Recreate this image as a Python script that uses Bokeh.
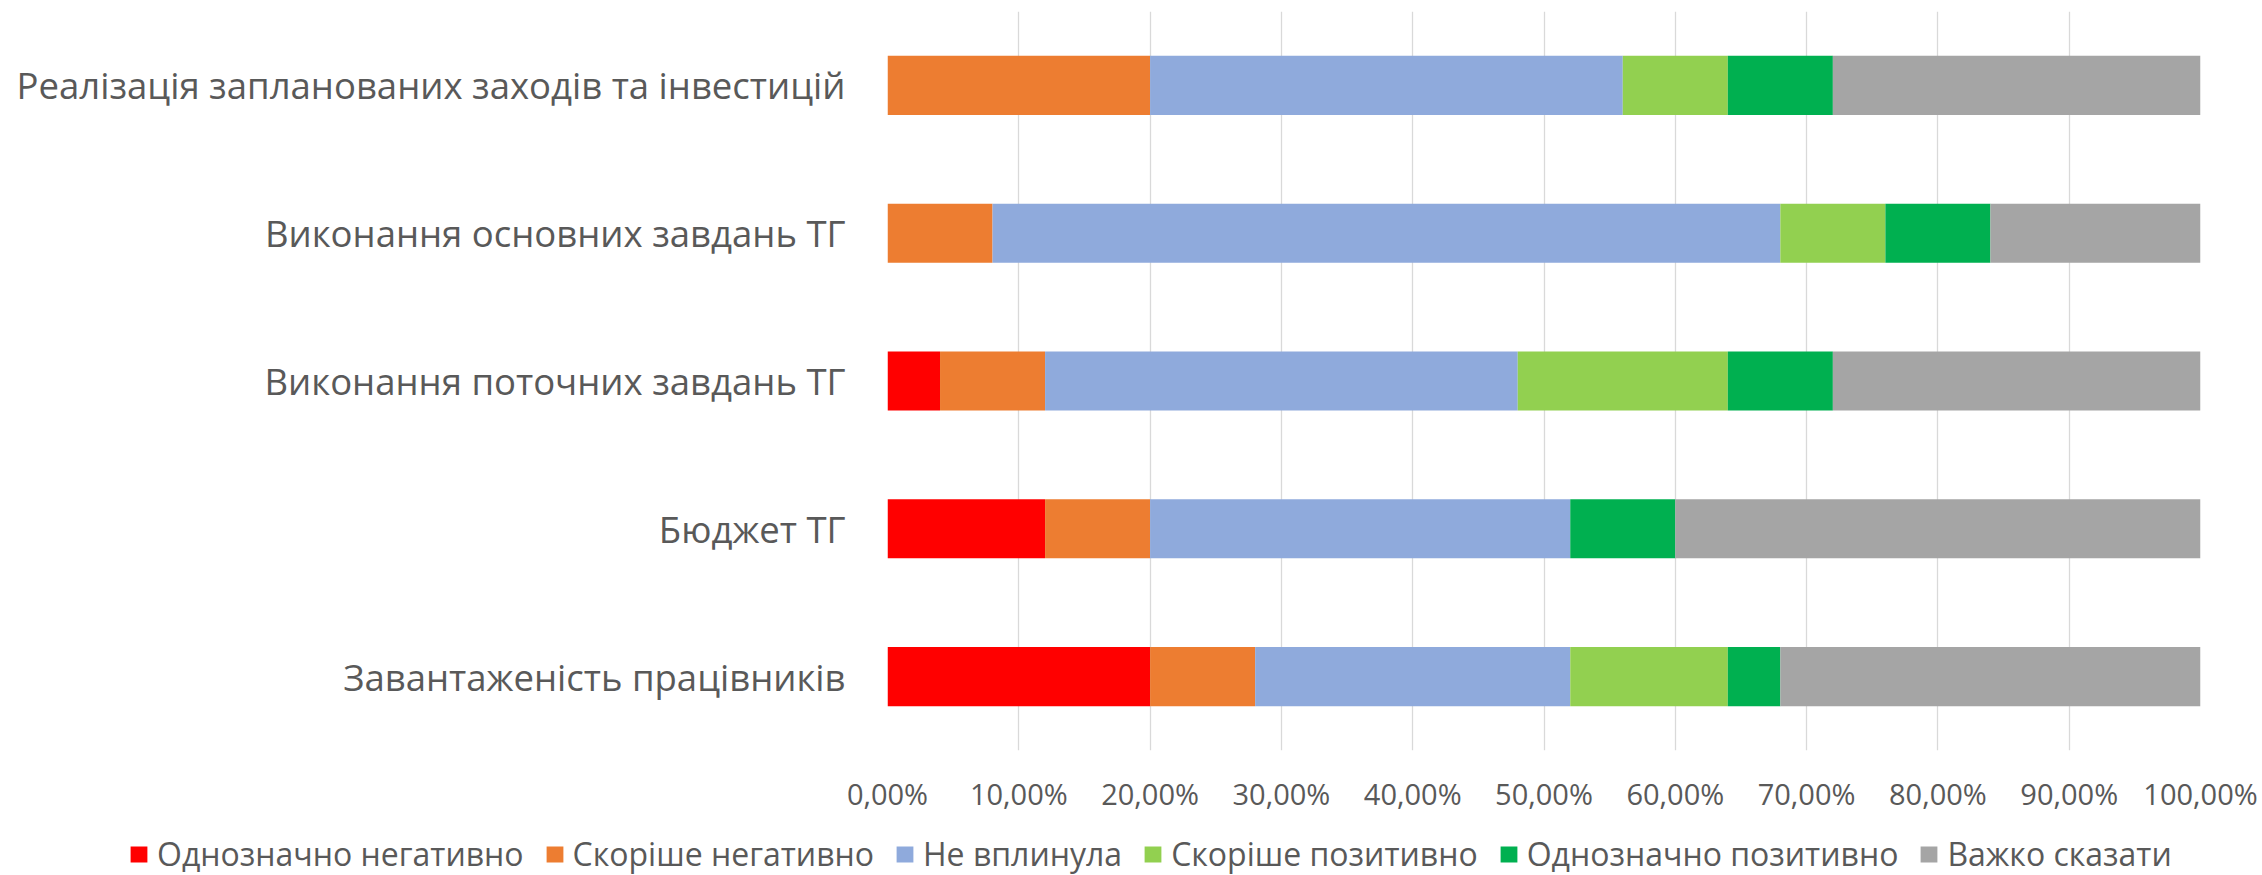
from bokeh.plotting import figure
from bokeh.layouts import column
from bokeh.models import ColumnDataSource, FactorRange, Range1d, FixedTicker, Legend, LegendItem
from bokeh.embed import file_html
from bokeh.resources import INLINE

# ---- data (percent) ----
categories = [
    "Реалізація запланованих заходів та інвестицій",
    "Виконання основних завдань ТГ",
    "Виконання поточних завдань ТГ",
    "Бюджет ТГ",
    "Завантаженість працівників",
]
series_names = [
    "Однозначно негативно",
    "Скоріше негативно",
    "Не вплинула",
    "Скоріше позитивно",
    "Однозначно позитивно",
    "Важко сказати",
]
definitely_negative = [0, 0, 4, 12, 20]
rather_negative = [20, 8, 8, 8, 8]
no_effect = [36, 60, 36, 32, 24]
rather_positive = [8, 8, 16, 0, 12]
definitely_positive = [8, 8, 8, 8, 4]
hard_to_say = [28, 16, 28, 40, 32]

tick_values = [0, 10, 20, 30, 40, 50, 60, 70, 80, 90, 100]
tick_labels = ["0,00%", "10,00%", "20,00%", "30,00%", "40,00%", "50,00%",
               "60,00%", "70,00%", "80,00%", "90,00%", "100,00%"]

colors = ["#FF0000", "#ED7D31", "#8FAADC", "#92D050", "#00B050", "#A5A5A5"]

keys = ["s0", "s1", "s2", "s3", "s4", "s5"]
src = ColumnDataSource(dict(
    cat=categories,
    s0=definitely_negative,
    s1=rather_negative,
    s2=no_effect,
    s3=rather_positive,
    s4=definitely_positive,
    s5=hard_to_say,
))

FONT = "Open Sans"
TXT = "#595959"

H1 = 815
p = figure(
    width=2262, height=H1,
    y_range=FactorRange(factors=list(reversed(categories))),
    x_range=Range1d(0, 100),
    output_backend="svg", toolbar_location=None,
    min_border_left=887, min_border_right=62, min_border_top=11, min_border_bottom=H1 - 750,
    frame_align=False,
)

p.hbar_stack(keys, y="cat", height=0.4, color=colors, source=src, line_color=None)

p.outline_line_color = None
p.ygrid.grid_line_color = None
p.xgrid.grid_line_color = "#D9D9D9"
p.xgrid.grid_line_width = 1.3

p.xaxis.ticker = FixedTicker(ticks=tick_values)
p.xaxis.major_label_overrides = {v: l for v, l in zip(tick_values, tick_labels)}
p.xaxis.axis_line_color = None
p.xaxis.major_tick_line_color = None
p.xaxis.minor_tick_line_color = None
p.xaxis.major_tick_out = 0
p.xaxis.major_tick_in = 0
p.xaxis.minor_tick_out = 0
p.xaxis.major_label_standoff = 23
p.xaxis.major_label_text_font = FONT
p.xaxis.major_label_text_font_size = "29px"
p.xaxis.major_label_text_color = TXT

p.yaxis.axis_line_color = None
p.yaxis.major_tick_line_color = None
p.yaxis.minor_tick_line_color = None
p.yaxis.major_tick_out = 0
p.yaxis.major_tick_in = 0
p.yaxis.major_label_standoff = 42
p.yaxis.major_label_text_font = FONT
p.yaxis.major_label_text_font_size = "36.5px"
p.yaxis.major_label_text_color = TXT

# ---- legend strip: separate figure whose (zero-height) bars only feed the legend ----
p2 = figure(
    width=2262, height=875 - H1,
    y_range=FactorRange(factors=list(reversed(categories))),
    x_range=Range1d(0, 100),
    output_backend="svg", toolbar_location=None,
    x_axis_location=None, y_axis_location=None,
    min_border=0, min_border_left=0, min_border_right=0, min_border_top=0, min_border_bottom=0,
    frame_align=False,
)
p2.outline_line_color = None
p2.xgrid.grid_line_color = None
p2.ygrid.grid_line_color = None
leg_renderers = p2.hbar_stack(keys, y="cat", height=0, color=colors, source=src, line_color=None)

legend = Legend(
    items=[LegendItem(label=n, renderers=[r]) for n, r in zip(series_names, leg_renderers)],
    orientation="horizontal",
    location=(128, 0),
    padding=0, margin=0, spacing=20,
    glyph_width=21, glyph_height=20, label_standoff=8,
    label_text_font=FONT, label_text_font_size="32px", label_text_color=TXT,
    label_height=30,
    border_line_color=None, background_fill_alpha=0,
)
p2.add_layout(legend, "center")

open("out.html", "w").write(file_html(column(p, p2), INLINE))
